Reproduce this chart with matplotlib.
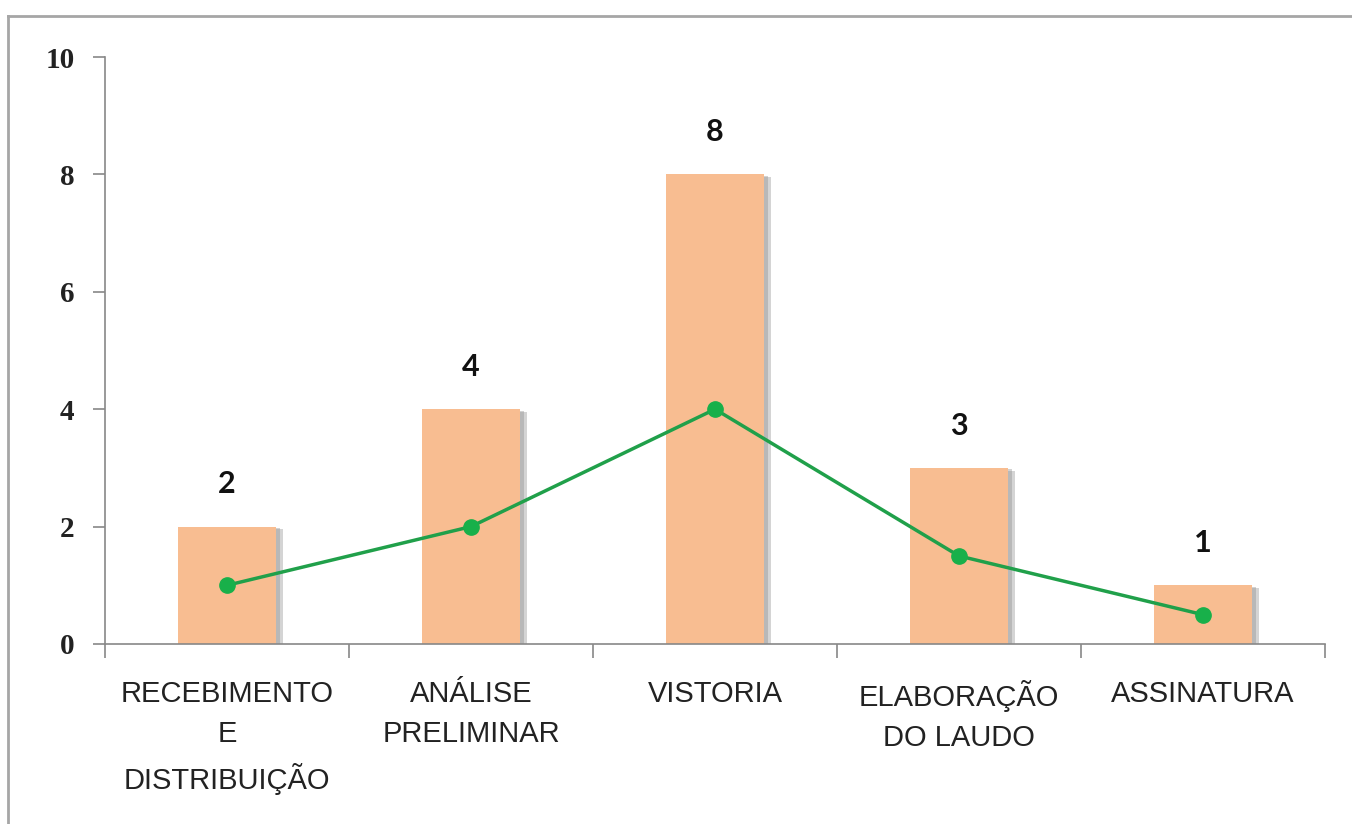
import matplotlib
matplotlib.use("Agg")
import matplotlib.pyplot as plt
import matplotlib.patheffects as pe
from matplotlib.lines import Line2D
import numpy as np

categories = ["RECEBIMENTO\nE\nDISTRIBUIÇÃO", "ANÁLISE\nPRELIMINAR", "VISTORIA",
              "ELABORAÇÃO\nDO LAUDO", "ASSINATURA"]
bar_values = [2, 4, 8, 3, 1]
line_values = [1, 2, 4, 1.5, 0.5]
yticks = [0, 2, 4, 6, 8, 10]

W, H = 1352, 824
fig = plt.figure(figsize=(W / 100, H / 100), dpi=100)
fig.patch.set_facecolor("white")

# outer border (top and left)
fig.add_artist(Line2D([8 / W, 8 / W], [0, 1 - 16 / H], transform=fig.transFigure,
                      color="#a6a6a6", lw=2))
fig.add_artist(Line2D([8 / W, 1], [1 - 16 / H, 1 - 16 / H], transform=fig.transFigure,
                      color="#a6a6a6", lw=2))

left, right = 105 / W, 1325 / W
bottom, top = 1 - 644 / H, 1 - 57 / H
ax = fig.add_axes([left, bottom, right - left, top - bottom])

x = np.arange(len(categories))
bars = ax.bar(x, bar_values, width=0.4, color="#F8BD91", zorder=2,
              path_effects=[pe.SimplePatchShadow(offset=(5, -2), shadow_rgbFace="#a0a0a0", alpha=0.45),
                            pe.SimplePatchShadow(offset=(3, -1), shadow_rgbFace="#909090", alpha=0.4),
                            pe.Normal()])
ax.plot(x, line_values, color="#20A04A", lw=2.5, marker="o", markersize=11,
        markerfacecolor="#18B04A", markeredgecolor="#18B04A", zorder=3)

for xi, v in zip(x, bar_values):
    ax.text(xi, v + 0.72, str(v), ha="center", va="center", fontsize=22,
            fontweight="bold", family=["Lato", "DejaVu Sans"], color="#111111")

ax.set_xlim(-0.5, len(categories) - 0.5)
ax.set_ylim(0, 10)
ax.set_yticks(yticks)
ax.set_yticklabels([str(t) for t in yticks], fontsize=21, fontweight="bold",
                   family=["Liberation Serif", "DejaVu Serif"], color="#222222")
ax.set_xticks(x)
ax.set_xticklabels(categories, fontsize=21, family=["Liberation Sans Narrow", "Liberation Sans", "DejaVu Sans"],
                   color="#222222", linespacing=1.55)
ax.tick_params(axis="x", which="major", length=0, pad=26)
ax.set_xticks(np.arange(-0.5, len(categories)), minor=True)
ax.tick_params(axis="x", which="minor", length=10, width=1.2, color="#888888", direction="out")
ax.tick_params(axis="y", length=9, width=1.2, color="#888888", direction="out", pad=13)

for s in ["top", "right"]:
    ax.spines[s].set_visible(False)
for s in ["left", "bottom"]:
    ax.spines[s].set_color("#888888")
    ax.spines[s].set_linewidth(1.2)

fig.savefig("out.png", dpi=100)
